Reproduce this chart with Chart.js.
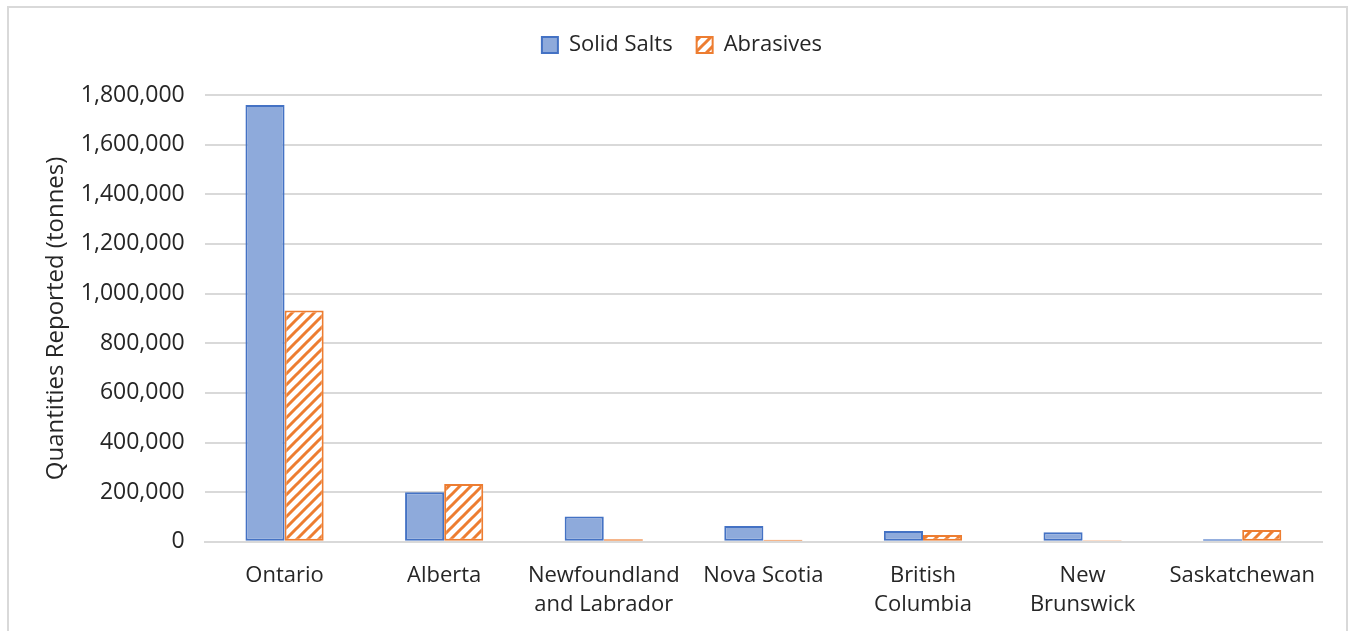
<!DOCTYPE html>
<html>
<head>
<meta charset="utf-8">
<script src="https://cdn.jsdelivr.net/npm/chart.js@4"></script>
<style>
  html, body { margin: 0; padding: 0; background: #fff; }
  #wrap { position: relative; width: 1352px; height: 631px; overflow: hidden; }
  #frame { position: absolute; left: 7px; top: 6px; width: 1341px; height: 640px; border: 2px solid #d9d9d9; box-sizing: border-box; }
  canvas { position: absolute; left: 0; top: 0; }
</style>
</head>
<body>
<div id="wrap">
  <div id="frame"></div>
  <canvas id="chart" width="1352" height="631"></canvas>
</div>
<script>
const provinces = [
    'Ontario',
    'Alberta',
    ['Newfoundland', 'and Labrador'],
    'Nova Scotia',
    ['British', 'Columbia'],
    ['New', 'Brunswick'],
    'Saskatchewan'
];
const solidSalts = [1760000, 200000, 102000, 64000, 44000, 38000, 10000];
const abrasives = [932000, 233000, 10000, 8000, 27000, 6000, 48000];

const blueFill = '#8eaadb';
const blueLine = '#4472c4';
const orange = '#ed7d31';

// diagonal orange hatch on white
function makeHatch() {
    const s = 11;
    const c = document.createElement('canvas');
    c.width = s;
    c.height = s;
    const g = c.getContext('2d');
    g.fillStyle = '#fff';
    g.fillRect(0, 0, s, s);
    g.strokeStyle = orange;
    g.lineWidth = 3;
    g.beginPath();
    for (let k = -1; k <= 1; k++) {
        g.moveTo(k * s - 2, s + 2);
        g.lineTo(k * s + s + 2, -2);
    }
    g.stroke();
    return g.createPattern(c, 'repeat');
}

// extra room between the legend and the plot
const legendGap = {
    id: 'legendGap',
    beforeInit(chart) {
        const fit = chart.legend.fit;
        chart.legend.fit = function () {
            fit.call(this);
            this.height += 29;
        };
    }
};

const ctx = document.getElementById('chart').getContext('2d');
const hatch = makeHatch();

Chart.defaults.font.family = '"Open Sans", sans-serif';
Chart.defaults.color = '#262626';

new Chart(ctx, {
    type: 'bar',
    data: {
        labels: provinces,
        datasets: [{
            label: 'Solid Salts',
            data: solidSalts,
            backgroundColor: blueFill,
            borderColor: blueLine,
            borderWidth: 2,
            borderSkipped: false,
        }, {
            label: 'Abrasives',
            data: abrasives,
            backgroundColor: hatch,
            borderColor: orange,
            borderWidth: 2,
            borderSkipped: false,
        }]
    },
    options: {
        responsive: false,
        animation: false,
        devicePixelRatio: 1,
        layout: { padding: { left: 42, right: 30, top: 10, bottom: 0 } },
        datasets: {
            bar: { barPercentage: 1, categoryPercentage: 0.49 }
        },
        plugins: {
            tooltip: { enabled: false },
            legend: {
                position: 'top',
                labels: {
                    boxWidth: 16,
                    boxHeight: 16,
                    padding: 24,
                    font: { size: 22 }
                }
            }
        },
        scales: {
            x: {
                grid: { display: false },
                border: { color: '#d9d9d9', width: 2 },
                ticks: { font: { size: 22, lineHeight: 1.3 }, maxRotation: 0, padding: 12 }
            },
            y: {
                min: 0,
                max: 1800000,
                ticks: {
                    stepSize: 200000,
                    font: { size: 23 },
                    padding: 20,
                    callback: v => v.toLocaleString('en-US')
                },
                grid: { color: '#d9d9d9', lineWidth: 2, drawTicks: false },
                border: { display: false },
                title: {
                    display: true,
                    text: 'Quantities Reported (tonnes)',
                    font: { size: 24 },
                    padding: { top: 0, bottom: -10 }
                }
            }
        }
    },
    plugins: [legendGap]
});
</script>
</body>
</html>
